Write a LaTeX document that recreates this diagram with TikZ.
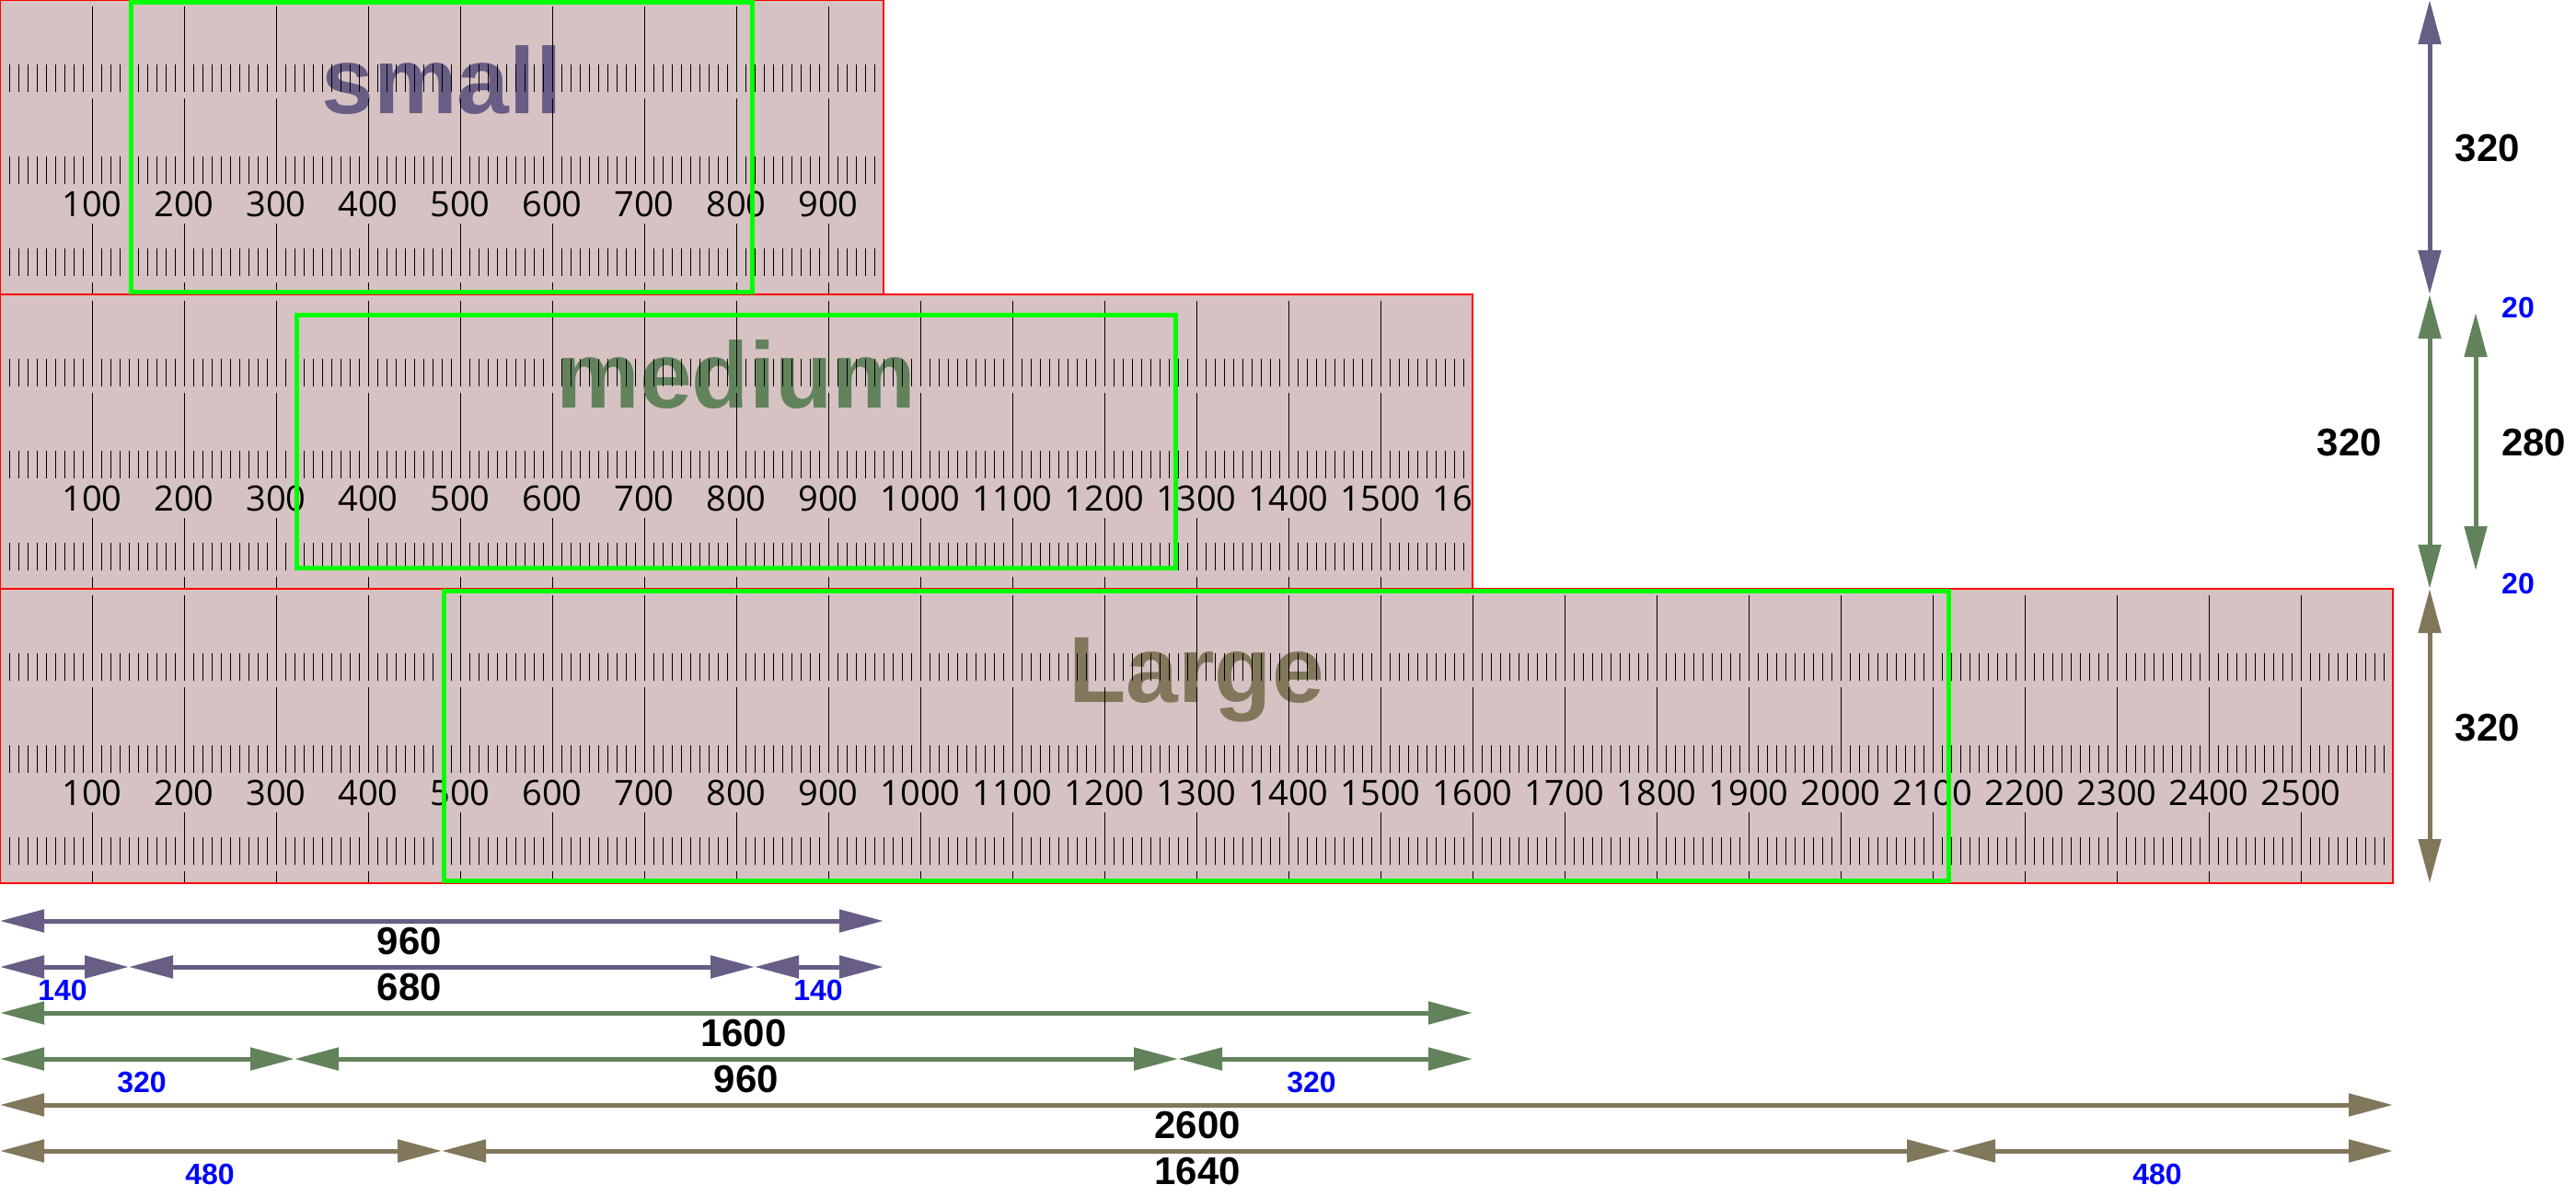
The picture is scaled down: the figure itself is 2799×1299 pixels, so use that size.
\documentclass[tikz,border=0pt]{standalone}
\usepackage{fontspec}
\setmainfont{Liberation Sans}
\newfontfamily\rulerfont{Open Sans}
\usetikzlibrary{arrows.meta}

\definecolor{rulerfill}{RGB}{214,194,194}
\definecolor{smallcol}{RGB}{103,93,133}
\definecolor{mediumcol}{RGB}{98,130,92}
\definecolor{largecol}{RGB}{129,119,91}
\definecolor{fitgreen}{RGB}{0,255,0}

\tikzset{
  dimline/.style={line width=5pt, {Triangle[length=48pt,width=24pt]}-{Triangle[length=48pt,width=24pt]}},
  dimlabel/.style={font=\fontsize{42}{44}\selectfont\bfseries, anchor=base, inner sep=0pt},
  marginlabel/.style={font=\fontsize{32}{34}\selectfont\bfseries, text=blue, anchor=base, inner sep=0pt},
  ruletick/.style={line width=1pt, black},
  rulenum/.style={font=\rulerfont\fontsize{38}{40}\selectfont, anchor=base, inner sep=0pt},
  sizeword/.style={font=\fontsize{102}{110}\selectfont\bfseries, anchor=base, inner sep=0pt},
  fitbox/.style={draw=fitgreen, line width=5pt},
}

\begin{document}
\begin{tikzpicture}[x=1pt, y=-1pt]
    \useasboundingbox (0,0) rectangle (2799,1299);

    % the three rulers
    \foreach \ry/\rw/\rlast/\rword/\rcol in {0/960/900/small/smallcol, 320/1600/1600/medium/mediumcol, 640/2600/2500/Large/largecol}{
        \begin{scope}
            \clip (0,\ry) rectangle ++(\rw,320);
            \fill[rulerfill] (0,\ry) rectangle ++(\rw,320);
            \node[sizeword, text=\rcol] (word-\rword) at (\rw/2,\ry+123) {\rword};
            \foreach \x in {10,20,...,\rw}{
                \foreach \b in {70,170,270}
                    \draw[ruletick] (\x,\ry+\b) -- ++(0,30);
            }
            \foreach \x in {100,200,...,\rw}{
                \draw[ruletick] (\x,\ry+7) -- (\x,\ry+100);
                \draw[ruletick] (\x,\ry+107) -- (\x,\ry+200);
                \draw[ruletick] (\x,\ry+243) -- (\x,\ry+300);
                \draw[ruletick] (\x,\ry+307) -- (\x,\ry+320);
            }
            \foreach \x in {100,200,...,\rlast}
                \node[rulenum] (num-\rword-\x) at (\x,\ry+235) {\x};
        \end{scope}
        \draw[red, line width=2pt] (0,\ry) rectangle ++(\rw,320);
    }

    % green frames
    \draw[fitbox] (142.5,2.5) rectangle (817.5,317.5);
    \draw[fitbox] (322.5,342.5) rectangle (1277.5,617.5);
    \draw[fitbox] (482.5,642.5) rectangle (2117.5,957.5);

    % vertical dimensions
    \coordinate (v0) at (2640,0);
    \coordinate (v1) at (2640,320);
    \coordinate (v2) at (2640,640);
    \coordinate (v3) at (2640,960);
    \coordinate (w1) at (2690,340);
    \coordinate (w2) at (2690,620);

    \draw[dimline, smallcol] (v0) -- (v1);
    \draw[dimline, mediumcol] (v1) -- (v2);
    \draw[dimline, largecol] (v2) -- (v3);
    \draw[dimline, mediumcol] (w1) -- (w2);

    \node[dimlabel] (h-small) at (2703,175) {320};
    \node[dimlabel] (h-medium) at (2553,495) {320};
    \node[dimlabel] (h-inner) at (2753,495) {280};
    \node[dimlabel] (h-large) at (2703,805) {320};
    \node[marginlabel] (m-top) at (2736,345) {20};
    \node[marginlabel] (m-bot) at (2736,645) {20};

    % horizontal dimensions
    \coordinate (a0) at (0,1001);
    \coordinate (a1) at (960,1001);
    \coordinate (b0) at (0,1051);
    \coordinate (b1) at (140,1051);
    \coordinate (b2) at (820,1051);
    \coordinate (b3) at (960,1051);
    \coordinate (c0) at (0,1101);
    \coordinate (c1) at (1600,1101);
    \coordinate (d0) at (0,1151);
    \coordinate (d1) at (320,1151);
    \coordinate (d2) at (1280,1151);
    \coordinate (d3) at (1600,1151);
    \coordinate (e0) at (0,1201);
    \coordinate (e1) at (2600,1201);
    \coordinate (f0) at (0,1251);
    \coordinate (f1) at (480,1251);
    \coordinate (f2) at (2120,1251);
    \coordinate (f3) at (2600,1251);

    \draw[dimline, smallcol] (a0) -- (a1);
    \draw[dimline, smallcol] (b0) -- (b1);
    \draw[dimline, smallcol] (b1) -- (b2);
    \draw[dimline, smallcol] (b2) -- (b3);
    \draw[dimline, mediumcol] (c0) -- (c1);
    \draw[dimline, mediumcol] (d0) -- (d1);
    \draw[dimline, mediumcol] (d1) -- (d2);
    \draw[dimline, mediumcol] (d2) -- (d3);
    \draw[dimline, largecol] (e0) -- (e1);
    \draw[dimline, largecol] (f0) -- (f1);
    \draw[dimline, largecol] (f1) -- (f2);
    \draw[dimline, largecol] (f2) -- (f3);

    \node[dimlabel] (w-small) at (445,1037) {960};
    \node[dimlabel] (w-small-in) at (445,1087) {680};
    \node[marginlabel] (s-left) at (68,1087) {140};
    \node[marginlabel] (s-right) at (889,1087) {140};
    \node[dimlabel] (w-medium) at (808,1137) {1600};
    \node[dimlabel] (w-medium-in) at (811,1187) {960};
    \node[marginlabel] (md-left) at (154,1187) {320};
    \node[marginlabel] (md-right) at (1425,1187) {320};
    \node[dimlabel] (w-large) at (1301,1237) {2600};
    \node[dimlabel] (w-large-in) at (1301,1287) {1640};
    \node[marginlabel] (l-left) at (228,1287) {480};
    \node[marginlabel] (l-right) at (2344,1287) {480};

\end{tikzpicture}
\end{document}
